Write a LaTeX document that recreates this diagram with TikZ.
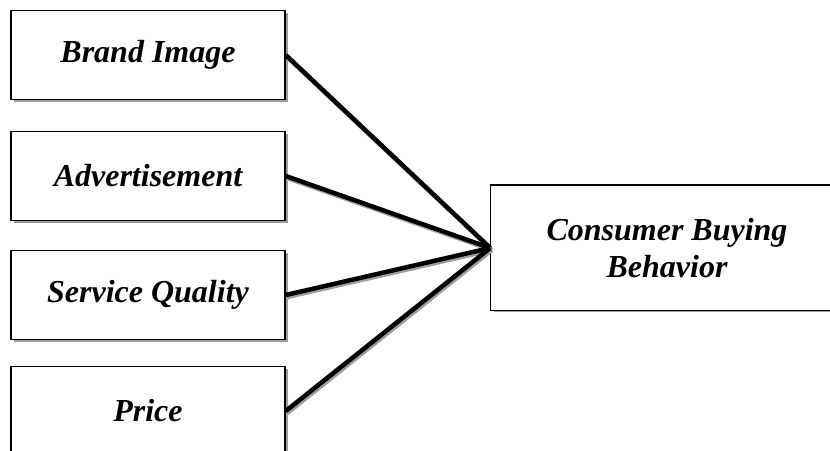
\documentclass[tikz,border=0pt]{standalone}
\usepackage{fontspec}
\setmainfont{Liberation Serif}
\usetikzlibrary{shadows}
\definecolor{ShadowClr}{gray}{0.62}

\tikzset{
  factor/.style={draw=black,line width=1.5pt,fill=white,
    minimum width=274pt,minimum height=89pt,
    drop shadow={shadow xshift=2.5pt,shadow yshift=-2.5pt,fill=ShadowClr,opacity=1},
    font=\fontsize{32}{37}\selectfont\bfseries\itshape,align=center},
  link/.style={line width=4.5pt,
    preaction={draw=ShadowClr,line width=4.5pt,transform canvas={shift={(1.5pt,-2pt)}}}}
}

\begin{document}
\begin{tikzpicture}[x=1pt,y=1pt]
\useasboundingbox (0,0) rectangle (830,450);

% independent variables
\node[factor] (brand) at (148,395) {Brand Image};
\node[factor] (advert) at (148,274) {Advertisement};
\node[factor] (service) at (148,155) {Service Quality};
\node[factor] (price) at (148,39) {Price};

% dependent variable (runs off the right edge)
\node[factor,draw=none,minimum width=352pt,minimum height=124pt] (buying) at (667,202)
  {Consumer Buying\\Behavior};
\draw[line width=1.5pt] (buying.north east) -- (buying.north west)
  -- (buying.south west) -- (buying.south east);

\draw[link] (brand.east) -- (buying.west);
\draw[link] (advert.east) -- (buying.west);
\draw[link] (service.east) -- (buying.west);
\draw[link] (price.east) -- (buying.west);

\end{tikzpicture}
\end{document}
